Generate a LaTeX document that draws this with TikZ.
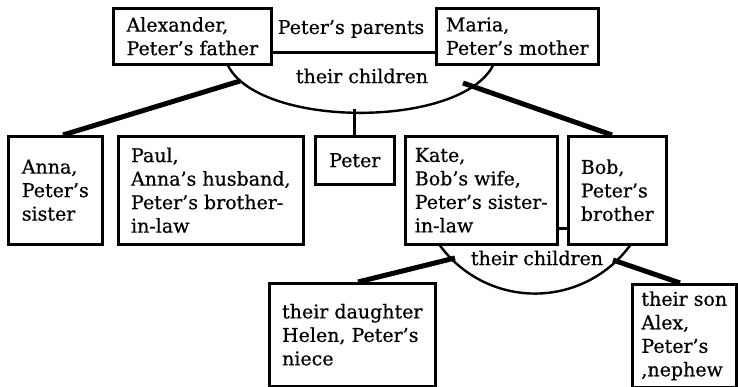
\documentclass[tikz,border=0pt]{standalone}
\usepackage{fontspec}
\setmainfont{DejaVu Serif}
\newfontfamily\famfont{DejaVu Serif}[Ligatures=TeX, FakeBold=0.6]
\usepackage{tikz}

\begin{document}
\begin{tikzpicture}[x=1pt, y=1pt,
    famBox/.style={draw, line width=2.6pt, align=left, anchor=north west,
        inner sep=0pt, font=\famfont\fontsize{19}{23.5}\selectfont},
    famLabel/.style={font=\famfont\fontsize{19}{23.5}\selectfont, inner sep=1pt},
    famLink/.style={line width=2.8pt},
    famArc/.style={line width=2.4pt},
    famKid/.style={line width=5pt}]
    \useasboundingbox (0,0) rectangle (738,387);

    % --- 1. PETER'S PARENTS ---
    \node[famBox, minimum width=158pt, minimum height=56pt] (alexander) at (112,380)
        {Alexander,\\Peter's father};
    \node[famBox, minimum width=162pt, minimum height=56pt] (maria) at (435,380)
        {Maria,\\Peter's mother};
    \draw[famLink] ([yshift=-16pt]alexander.east) -- ([yshift=-16pt]maria.west);
    \node[famLabel] (parents) at (351,358) {Peter's parents};

    % bowl under the parents
    \draw[famArc] ([xshift=116pt]alexander.south west)
        .. controls +(32,-63) and +(-33,-63) .. ([xshift=58pt]maria.south west);
    \node[famLabel] (kids) at (362,311) {their children};
    \coordinate (kidsL) at (240,306);
    \coordinate (kidsM) at (354,278);
    \coordinate (kidsR) at (463,304);

    % --- 2. THE CHILDREN ROW ---
    \node[famBox, minimum width=94pt, minimum height=108pt] (anna) at (7,252)
        {Anna,\\Peter's\\sister};
    \node[famBox, minimum width=185pt, minimum height=108pt] (paul) at (117,252)
        {Paul,\\Anna's husband,\\Peter's brother-\\in-law};
    \node[famBox, minimum width=79pt, minimum height=48pt] (peter) at (314,252)
        {Peter};
    \node[famBox, minimum width=152pt, minimum height=108pt] (kate) at (404,252)
        {Kate,\\Bob's wife,\\Peter's sister-\\in-law};
    \node[famBox, minimum width=98pt, minimum height=108pt] (bob) at (567,252)
        {Bob,\\Peter's\\brother};

    \draw[famKid] (kidsL) -- ([xshift=56pt]anna.north west);
    \draw[famKid] (kidsR) -- ([xshift=45pt]bob.north west);
    \draw[famLink] (peter.north) -- (peter.north |- kidsM);
    \draw[famLink] ([yshift=-38pt]kate.east) -- ([yshift=-38pt]bob.west);

    % --- 3. KATE AND BOB'S CHILDREN ---
    \draw[famArc] ([xshift=36pt]kate.south west)
        arc[start angle=216.4, end angle=323.6, radius=118pt];
    \node[famLabel] (kids2) at (537,129) {their children};
    \coordinate (kids2L) at (455,129);
    \coordinate (kids2R) at (613,127);

    \node[famBox, minimum width=166pt, minimum height=103pt] (helen) at (268,105)
        {their daughter\\Helen, Peter's\\niece};
    \node[famBox, minimum width=104pt, minimum height=103pt] (alex) at (631,104)
        {their son\\Alex,\\Peter's\\,nephew};

    \draw[famKid] (kids2L) -- ([xshift=90pt]helen.north west);
    \draw[famKid] (kids2R) -- ([xshift=49pt]alex.north west);

\end{tikzpicture}
\end{document}
